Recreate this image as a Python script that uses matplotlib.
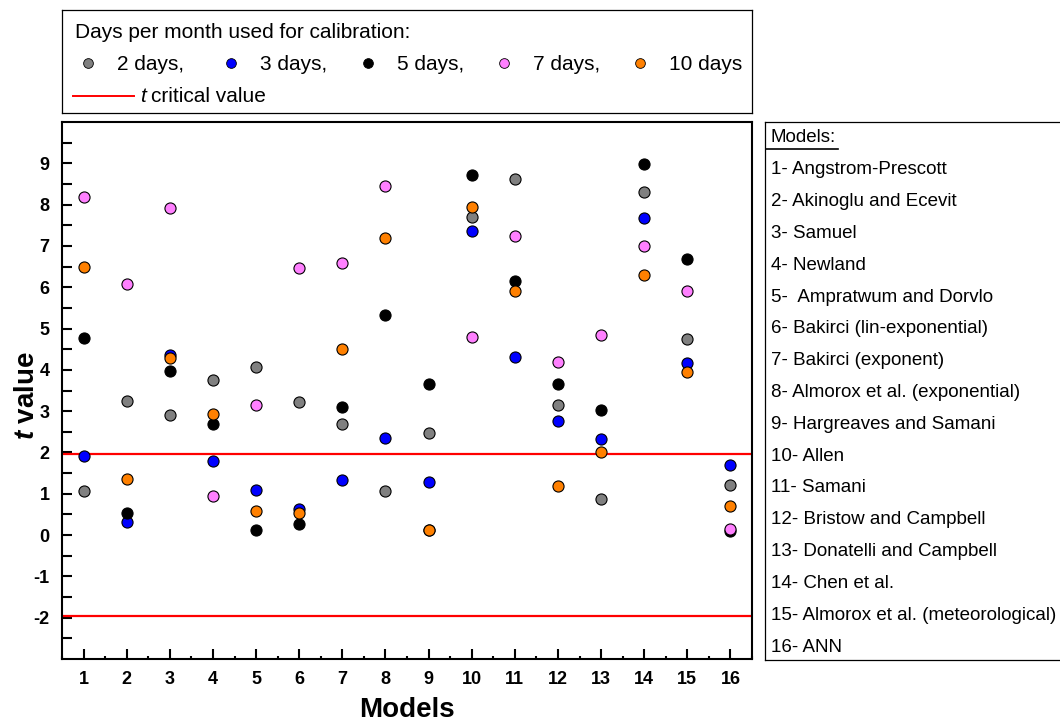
import matplotlib.pyplot as plt
import numpy as np
from matplotlib.lines import Line2D

plt.rcParams['font.family'] = ['Liberation Sans', 'DejaVu Sans']
plt.rcParams['mathtext.fontset'] = 'custom'
plt.rcParams['mathtext.it'] = 'Liberation Sans:bold:italic'
plt.rcParams['mathtext.rm'] = 'Liberation Sans:bold'
plt.rcParams['axes.unicode_minus'] = False

# model numbers on the x axis
models = np.arange(1, 17)

# t values, one list per calibration period
days2 = [1.07, 3.24, 2.90, 3.75, 4.08, 3.23, 2.69, 1.07, 2.48, 7.69, 8.61, 3.16, 0.87, 8.31, 4.75, 1.22]
days3 = [1.91, 0.32, 4.37, 1.80, 1.10, 0.63, 1.33, 2.35, 1.29, 7.37, 4.32, 2.76, 2.33, 7.68, 4.17, 1.70]
days5 = [4.77, 0.53, 3.96, 2.70, 0.13, 0.28, 3.10, 5.32, 3.66, 8.71, 6.14, 3.65, 3.03, 8.98, 6.69, 0.09]
days7 = [8.18, 6.08, 7.93, 0.94, 3.16, 6.47, 6.59, 8.45, 0.12, 4.79, 7.23, 4.20, 4.84, 7.00, 5.92, 0.15]
days10 = [6.50, 1.36, 4.28, 2.94, 0.59, 0.53, 4.50, 7.20, 0.12, 7.94, 5.91, 1.19, 2.01, 6.29, 3.94, 0.70]

t_crit = 1.96

series_labels = ['2 days,', '3 days,', '5 days,', '7 days,', '10 days']
series_colors = ['#808080', '#0000FF', '#000000', '#FF80FF', '#FF8000']

model_names = ['1- Angstrom-Prescott', '2- Akinoglu and Ecevit', '3- Samuel', '4- Newland',
               '5-  Ampratwum and Dorvlo', '6- Bakirci (lin-exponential)', '7- Bakirci (exponent)',
               '8- Almorox et al. (exponential)', '9- Hargreaves and Samani', '10- Allen',
               '11- Samani', '12- Bristow and Campbell', '13- Donatelli and Campbell',
               '14- Chen et al.', '15- Almorox et al. (meteorological)', '16- ANN']

W, H = 1060, 728
fig = plt.figure(figsize=(W / 100, H / 100), dpi=100)

def fx(x):
    return x / W

def fy(y):
    return 1 - y / H

# main plot
ax = fig.add_axes([fx(62), fy(659), (752 - 62) / W, (659 - 122) / H])
for vals, col in zip([days2, days3, days5, days7, days10], series_colors):
    ax.plot(models, vals, linestyle='none', marker='o', markersize=8,
            markerfacecolor=col, markeredgecolor='black', markeredgewidth=0.8, zorder=3)

ax.axhline(t_crit, color='#FF0000', linewidth=1.6, zorder=2)
ax.axhline(-t_crit, color='#FF0000', linewidth=1.6, zorder=2)

ax.set_xlim(0.5, 16.47)
ax.set_ylim(-3, 10)
ax.set_xticks(models)
ax.set_xticks(np.arange(0.5, 16.6, 1), minor=True)
ax.set_yticks(np.arange(-2, 10))
ax.set_yticks(np.arange(-2.5, 10, 1), minor=True)
ax.tick_params(axis='both', which='both', direction='in', width=1.5, labelsize=13)
ax.tick_params(axis='y', which='both', length=7, pad=9)
ax.tick_params(axis='x', which='major', length=7, pad=9)
ax.tick_params(axis='x', which='minor', length=2.5)
ax.tick_params(right=False, top=False)
for lab in ax.get_xticklabels() + ax.get_yticklabels():
    lab.set_fontweight('bold')
for sp in ax.spines.values():
    sp.set_linewidth(1.5)

ax.set_xlabel('Models', fontsize=20, fontweight='bold', labelpad=6)
ax.set_ylabel(r'$t$ value', fontsize=20, fontweight='bold')
ax.yaxis.set_label_coords(-0.032, 0.49)

# top legend box
lax = fig.add_axes([fx(62), fy(113), (752 - 62) / W, (113 - 10) / H])
lax.set_xlim(0, 690)
lax.set_ylim(103, 0)
lax.set_xticks([])
lax.set_yticks([])
for sp in lax.spines.values():
    sp.set_linewidth(0.9)
lax.text(13, 23, 'Days per month used for calibration:', fontsize=15, va='center')
mark_x = [26, 169, 306, 442, 578]
for mx, col, lab in zip(mark_x, series_colors, series_labels):
    lax.plot([mx], [53], marker='o', markersize=7, markerfacecolor=col,
             markeredgecolor='black', markeredgewidth=0.6, linestyle='none')
    lax.text(mx + 29, 54, lab, fontsize=15, va='center')
lax.plot([11, 72], [86, 86], color='#FF0000', linewidth=1.4)
lax.text(78, 87, 't', fontsize=15, fontstyle='italic', va='center')
lax.text(89, 87, 'critical value', fontsize=15, va='center')

# models box on the right
fig.add_artist(Line2D([fx(765), fx(765)], [fy(122), fy(660)], color='black', linewidth=0.9))
fig.add_artist(Line2D([fx(765), 1.0], [fy(122), fy(122)], color='black', linewidth=0.9))
fig.add_artist(Line2D([fx(765), 1.0], [fy(660), fy(660)], color='black', linewidth=0.9))
fig.text(fx(771), fy(138), 'Models:', fontsize=13.5, va='center')
fig.add_artist(Line2D([fx(766), fx(838)], [fy(149), fy(149)], color='black', linewidth=1.2))
for i, name in enumerate(model_names):
    fig.text(fx(771), fy(170 + 31.8 * i), name, fontsize=13.5, va='center')

fig.savefig('out.png', dpi=100)
